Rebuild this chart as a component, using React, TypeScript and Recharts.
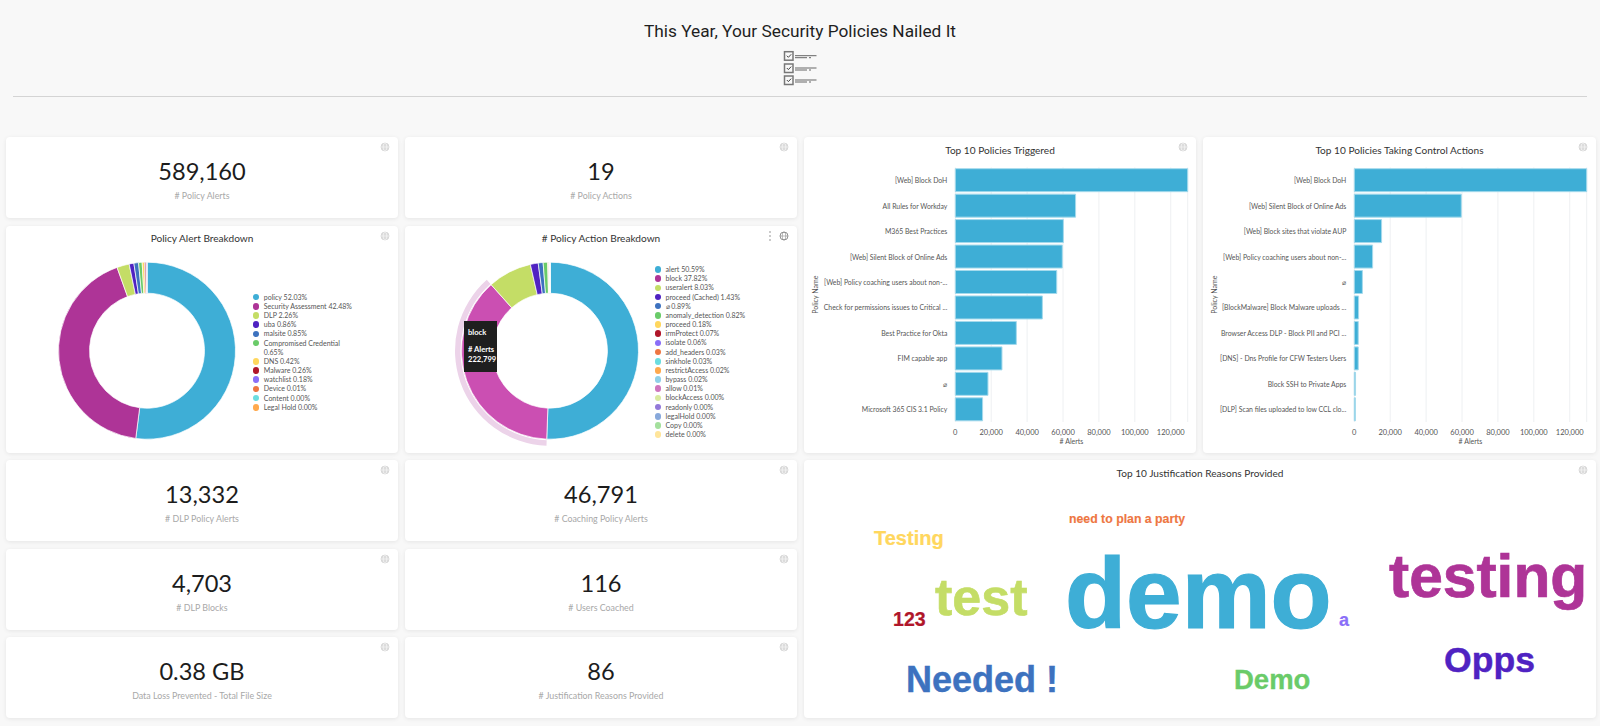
import { BarChart, Bar, XAxis, YAxis, CartesianGrid, PieChart, Pie, Cell } from 'recharts'

const BLUE = '#3eaed6'
const PALETTE = [
  BLUE, '#ae3497', '#c4dd66', '#4f22c2', '#3d72bf', '#6acb69', '#ffd75e', '#b0162a', '#8a6ef8', '#ee7642',
  '#6cdde0', '#ffa94d', '#90d0e8', '#cf75bd', '#d9ea9f', '#9379d9', '#88a9db', '#a4e09d', '#ffe59b',
]

const alertNames = ['policy', 'Security Assessment', 'DLP', 'uba', 'malsite', 'Compromised Credential', 'DNS', 'Malware', 'watchlist', 'Device', 'Content', 'Legal Hold']
const alertShares = [52.03, 42.48, 2.26, 0.86, 0.85, 0.65, 0.42, 0.26, 0.18, 0.01, 0.0, 0.0]

const actionNames = ['alert', 'block', 'useralert', 'proceed (Cached)', '⌀', 'anomaly_detection', 'proceed', 'irmProtect', 'isolate', 'add_headers', 'sinkhole', 'restrictAccess', 'bypass', 'allow', 'blockAccess', 'readonly', 'legalHold', 'Copy', 'delete']
const actionShares = [50.59, 37.82, 8.03, 1.43, 0.89, 0.82, 0.18, 0.07, 0.06, 0.03, 0.03, 0.02, 0.02, 0.01, 0.0, 0.0, 0.0, 0.0, 0.0]

const triggeredPolicies = ['[Web] Block DoH', 'All Rules for Workday', 'M365 Best Practices', '[Web] Silent Block of Online Ads', '[Web] Policy coaching users about non-...', 'Check for permissions issues to Critical ...', 'Best Practice for Okta', 'FIM capable app', '⌀', 'Microsoft 365 CIS 3.1 Policy']
const triggeredAlerts = [129450, 67000, 60200, 59600, 56500, 48500, 34000, 26000, 18200, 15200]

const controlPolicies = ['[Web] Block DoH', '[Web] Silent Block of Online Ads', '[Web] Block sites that violate AUP', '[Web] Policy coaching users about non-...', '⌀', '[BlockMalware] Block Malware uploads ...', 'Browser Access DLP - Block PII and PCI ...', '[DNS] - Dns Profile for CFW Testers Users', 'Block SSH to Private Apps', '[DLP] Scan files uploaded to low CCL clo...']
const controlAlerts = [129450, 59600, 15200, 10200, 4500, 2400, 2200, 2200, 700, 600]

const alertTicks = [0, 20000, 40000, 60000, 80000, 100000, 120000]

const statValues = ['589,160', '19', '13,332', '46,791', '4,703', '116', '0.38 GB', '86']
const statLabels = ['# Policy Alerts', '# Policy Actions', '# DLP Policy Alerts', '# Coaching Policy Alerts', '# DLP Blocks', '# Users Coached', 'Data Loss Prevented - Total File Size', '# Justification Reasons Provided']
const statBoxes = [
  [6, 137], [405, 137], [6, 460], [405, 460], [6, 549], [405, 549], [6, 637], [405, 637],
]

const cloudWords = ['demo', 'testing', 'test', 'Needed !', 'Opps', 'Demo', 'Testing', '123', 'a', 'need to plan a party']
const cloudSizes = [100, 60.5, 52, 36, 35.6, 27.5, 20, 19.6, 18, 12.3]
const cloudSpots = [[1065, 628], [1389, 597], [935, 615], [906, 692], [1444, 672], [1234, 689], [874, 545], [893, 626], [1339, 626], [1069, 523]]
const cloudColors = [BLUE, '#ae3497', '#c4dd66', '#3d72bf', '#4f22c2', '#6acb69', '#ffd75e', '#b0162a', '#8a6ef8', '#ee7642']

const FONT = 'Lato, sans-serif'

function Globe({ x, y, dark = false }: { x: number; y: number; dark?: boolean }) {
  const c = dark ? '#777' : '#d4d4d4'
  const inner = dark ? '#777' : '#fff'
  return (
    <svg width={10} height={10} style={{ position: 'absolute', left: x - 5, top: y - 5 }}>
      <circle cx={5} cy={5} r={4} fill={dark ? '#fff' : '#dcdcdc'} stroke={c} strokeWidth={0.8} />
      <ellipse cx={5} cy={5} rx={1.8} ry={4} fill="none" stroke={inner} strokeWidth={0.5} />
      <line x1={1} y1={5} x2={9} y2={5} stroke={inner} strokeWidth={0.5} />
    </svg>
  )
}

function Card({ x, y, w, h, dark, children }: { x: number; y: number; w: number; h: number; dark?: boolean; children?: React.ReactNode }) {
  return (
    <div style={{ position: 'absolute', left: x, top: y, width: w, height: h, background: '#fff', borderRadius: 4, boxShadow: '0 1px 4px rgba(0,0,0,0.08)' }}>
      {children}
      <Globe x={w - 13.5} y={10} dark={dark} />
    </div>
  )
}

function CardTitle({ text, y }: { text: string; y: number }) {
  return <div style={{ position: 'absolute', left: 0, right: 0, top: y, textAlign: 'center', fontSize: 10.1, lineHeight: '14px', color: '#333' }}>{text}</div>
}

function StatCard({ index }: { index: number }) {
  const [x, y] = statBoxes[index]
  return (
    <Card x={x} y={y} w={392} h={81}>
      <div style={{ position: 'absolute', left: 0, right: 0, top: 17, textAlign: 'center', fontSize: 23.6, lineHeight: '34px', color: '#1c1c1c' }}>{statValues[index]}</div>
      <div style={{ position: 'absolute', left: 0, right: 0, top: 52.5, textAlign: 'center', fontSize: 8.85, lineHeight: '12px', color: '#a8a8a8' }}>{statLabels[index]}</div>
    </Card>
  )
}

function DotLegend({ x, y, names, shares }: { x: number; y: number; names: string[]; shares: number[] }) {
  return (
    <div style={{ position: 'absolute', left: x, top: y, width: 98, fontSize: 7, lineHeight: '9.17px', color: '#555' }}>
      {names.map((name, i) => (
        <div key={name} style={{ position: 'relative', paddingLeft: 7.5 }}>
          <span style={{ position: 'absolute', left: -3.5, top: 1.2, width: 6.6, height: 6.6, borderRadius: '50%', background: PALETTE[i] }} />
          {name} {shares[i].toFixed(2)}%
        </div>
      ))}
    </div>
  )
}

function Donut({ names, shares, cx, highlight }: { names: string[]; shares: number[]; cx: number; highlight?: number }) {
  const data = names.map((name, i) => ({ name, share: shares[i] }))
  return (
    <PieChart width={392} height={227} margin={{ top: 0, right: 0, bottom: 0, left: 0 }} style={{ position: 'absolute', left: 0, top: 0 }}>
      {highlight !== undefined && (
        <Pie data={data} dataKey="share" cx={cx} cy={124.7} innerRadius={89.5} outerRadius={95} startAngle={90} endAngle={-270} stroke="none" isAnimationActive={false}>
          {data.map((d, i) => (
            <Cell key={d.name} fill={i === highlight ? '#ecd3e9' : 'transparent'} />
          ))}
        </Pie>
      )}
      <Pie data={data} dataKey="share" cx={cx} cy={124.7} innerRadius={57.5} outerRadius={88.5} startAngle={90} endAngle={-270} stroke="#fff" strokeWidth={0.7} isAnimationActive={false}>
        {data.map((d, i) => (
          <Cell key={d.name} fill={i === highlight ? '#cb4fb2' : PALETTE[i]} />
        ))}
      </Pie>
    </PieChart>
  )
}

// recharts wraps long category ticks, the original keeps them on one line
function PolicyTick({ x, y, payload }: any) {
  return (
    <text x={x} y={y} dy={3} textAnchor="end" fontSize={6.85} fontFamily={FONT} fill="#555">
      {payload.value}
    </text>
  )
}

function TopPolicies({ names, values }: { names: string[]; values: number[] }) {
  const data = names.map((name, i) => ({ name, alerts: values[i] }))
  return (
    <BarChart width={392} height={316} data={data} layout="vertical" barCategoryGap="5%" margin={{ top: 30.4, right: 8.3, bottom: 6, left: 0 }} style={{ position: 'absolute', left: 0, top: 0 }}>
      <CartesianGrid horizontal={false} stroke="#eef0f2" />
      <XAxis
        type="number"
        domain={[0, 129450]}
        ticks={alertTicks}
        interval={0}
        height={25}
        tickLine={false}
        axisLine={false}
        tickMargin={2}
        tick={{ fontSize: 7.5, fill: '#555', fontFamily: FONT }}
        tickFormatter={(v: number) => v.toLocaleString('en-US')}
        label={{ value: '# Alerts', position: 'insideBottom', offset: 3, fontSize: 7, fill: '#555', fontFamily: FONT }}
      />
      <YAxis
        type="category"
        dataKey="name"
        width={151.3}
        interval={0}
        tickLine={false}
        axisLine={false}
        tickMargin={2}
        tick={<PolicyTick />}
        label={{ value: 'Policy Name', angle: -90, position: 'insideLeft', offset: 12, textAnchor: 'middle', fontSize: 7, fill: '#555', fontFamily: FONT }}
      />
      <Bar dataKey="alerts" fill={BLUE} stroke="#a5daec" strokeWidth={1} isAnimationActive={false} />
    </BarChart>
  )
}

function Checklist() {
  return (
    <svg width={36} height={36} style={{ position: 'absolute', left: 782, top: 50 }}>
      {[5.7, 18, 30].map(y => (
        <g key={y}>
          <rect x={2.5} y={y - 4} width={8.5} height={8.5} fill="none" stroke="#777" strokeWidth={1.5} />
          <path d={`M4.8 ${y} l1.6 1.6 l2.8 -3`} fill="none" stroke="#444" strokeWidth={1} />
          <line x1={13} y1={y} x2={34.5} y2={y} stroke="#666" strokeWidth={1} />
          <line x1={13} y1={y + 2} x2={25} y2={y + 2} stroke="#666" strokeWidth={1} />
          <line x1={27} y1={y + 2} x2={29} y2={y + 2} stroke="#666" strokeWidth={1} />
        </g>
      ))}
    </svg>
  )
}

export default function App() {
  return (
    <div style={{ position: 'absolute', left: 0, top: 0, width: 1600, height: 726, overflow: 'hidden', background: '#f8f8f8', fontFamily: FONT }}>
      <div style={{ position: 'absolute', left: 0, width: 1600, top: 18, textAlign: 'center', fontFamily: 'Roboto, sans-serif', fontSize: 17.3, lineHeight: '26px', color: '#1f1f1f' }}>
        This Year, Your Security Policies Nailed It
      </div>
      <Checklist />
      <div style={{ position: 'absolute', left: 13, top: 96, width: 1574, height: 1, background: '#d4d4d4' }} />

      {statBoxes.map((_, i) => (
        <StatCard key={i} index={i} />
      ))}

      <Card x={6} y={226} w={392} h={227}>
        <Donut names={alertNames} shares={alertShares} cx={141} />
        <CardTitle text="Policy Alert Breakdown" y={5.3} />
        <DotLegend x={250.3} y={66.7} names={alertNames} shares={alertShares} />
      </Card>

      <Card x={405} y={226} w={392} h={227} dark>
        <Donut names={actionNames} shares={actionShares} cx={145} highlight={1} />
        <CardTitle text="# Policy Action Breakdown" y={5.3} />
        <DotLegend x={253} y={39} names={actionNames} shares={actionShares} />
        <div style={{ position: 'absolute', left: 59, top: 95, width: 33, height: 51, background: '#1f1f1f', color: '#fff', fontSize: 7.6, fontWeight: 700, lineHeight: '10px' }}>
          <div style={{ position: 'absolute', left: 4, top: 6 }}>block</div>
          <div style={{ position: 'absolute', left: 4, top: 23 }}>{'# Alerts'}</div>
          <div style={{ position: 'absolute', left: 4, top: 33 }}>222,799</div>
        </div>
        <svg width={4} height={12} style={{ position: 'absolute', left: 363, top: 4 }}>
          {[2, 6, 10].map(cy => <circle key={cy} cx={2} cy={cy} r={0.8} fill="#888" />)}
        </svg>
      </Card>

      <Card x={804} y={137} w={392} h={316}>
        <TopPolicies names={triggeredPolicies} values={triggeredAlerts} />
        <CardTitle text="Top 10 Policies Triggered" y={6.3} />
      </Card>

      <Card x={1203} y={137} w={393} h={316}>
        <TopPolicies names={controlPolicies} values={controlAlerts} />
        <CardTitle text="Top 10 Policies Taking Control Actions" y={6.3} />
      </Card>

      <Card x={804} y={460} w={792} h={258}>
        <CardTitle text="Top 10 Justification Reasons Provided" y={6.3} />
      </Card>
      <svg width={1600} height={726} style={{ position: 'absolute', left: 0, top: 0, pointerEvents: 'none' }}>
        {cloudWords.map((word, i) => (
          <text
            key={word}
            x={cloudSpots[i][0]}
            y={cloudSpots[i][1]}
            fontFamily="'Liberation Sans', Arial, sans-serif"
            fontWeight={700}
            fontSize={cloudSizes[i]}
            fill={cloudColors[i]}
            stroke={cloudColors[i]}
            strokeWidth={cloudSizes[i] * 0.012}
          >
            {word}
          </text>
        ))}
      </svg>
    </div>
  )
}
